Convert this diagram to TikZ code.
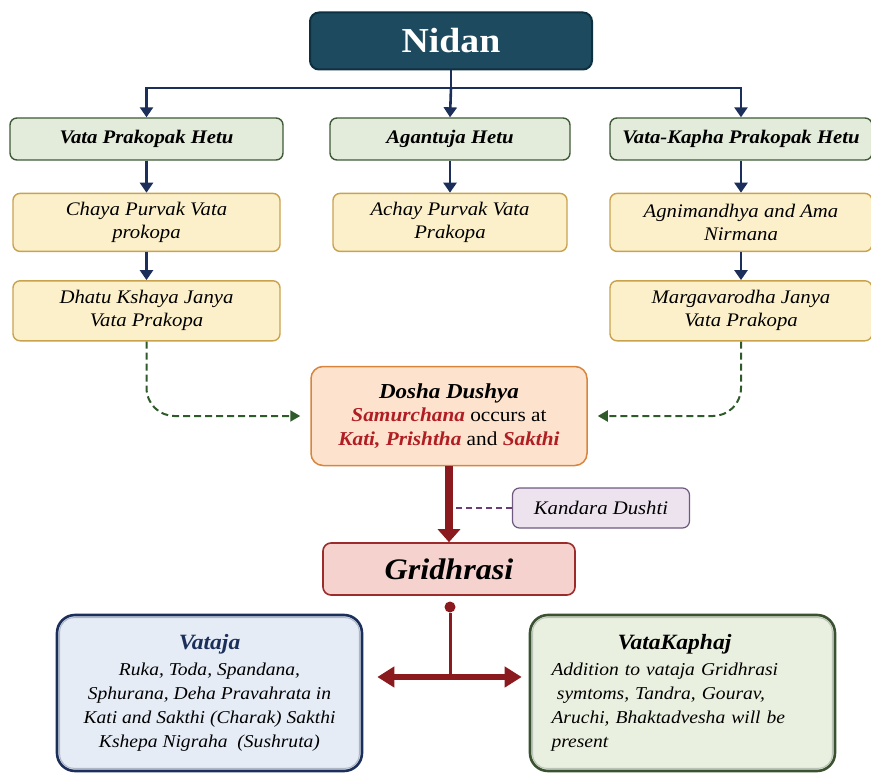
\documentclass[tikz,border=0pt]{standalone}
\usepackage{fontspec}
\setmainfont{Liberation Serif}[FakeStretch=1.08]
\usepackage{tikz}
\usetikzlibrary{shapes.geometric, arrows.meta, positioning, calc}
\definecolor{navy}{HTML}{1B2F5A}
\definecolor{nidanfill}{HTML}{1D4A5E}
\definecolor{nidandraw}{HTML}{0E3142}
\definecolor{hetufill}{HTML}{E3ECDA}
\definecolor{hetudraw}{HTML}{3F5A37}
\definecolor{yelfill}{HTML}{FCF0CA}
\definecolor{yeldraw}{HTML}{C9A24E}
\definecolor{dosfill}{HTML}{FDE3CD}
\definecolor{dosdraw}{HTML}{D9843C}
\definecolor{kdfill}{HTML}{ECE3EF}
\definecolor{kddraw}{HTML}{6E5A7E}
\definecolor{grfill}{HTML}{F6D2CE}
\definecolor{grdraw}{HTML}{9C2B2B}
\definecolor{vtfill}{HTML}{E5ECF6}
\definecolor{vkfill}{HTML}{EAF0DF}
\definecolor{vkdraw}{HTML}{3A5230}
\definecolor{darkred}{HTML}{8A1A1E}
\definecolor{dashgreen}{HTML}{2F5A2A}
\definecolor{kdline}{HTML}{6A3C78}
\definecolor{hl}{HTML}{B01E23}
\tikzstyle{nidan} = [rectangle, rounded corners=9pt, minimum width=282pt, minimum height=57pt, text centered, draw=nidandraw, line width=2pt, fill=nidanfill, text=white, font=\fontsize{35}{38}\selectfont\bfseries]
\tikzstyle{hetu} = [rectangle, rounded corners=7pt, minimum width=273pt, minimum height=42pt, inner xsep=2pt, text centered, draw=hetudraw, line width=1.4pt, fill=hetufill, font=\fontsize{19.2}{22}\selectfont\bfseries\itshape]
\tikzstyle{prakopa} = [rectangle, rounded corners=7pt, minimum width=267pt, minimum height=58pt, align=center, draw=yeldraw, line width=1.4pt, fill=yelfill, font=\fontsize{19.2}{23}\selectfont\itshape]
\tikzstyle{dosha} = [rectangle, rounded corners=12pt, minimum width=276pt, minimum height=99pt, align=center, draw=dosdraw, line width=1.5pt, fill=dosfill, font=\fontsize{19.7}{23.5}\selectfont]
\tikzstyle{kandara} = [rectangle, rounded corners=7pt, minimum width=177pt, minimum height=40pt, text centered, draw=kddraw, line width=1.2pt, fill=kdfill, font=\fontsize{19.2}{22}\selectfont\itshape]
\tikzstyle{gridh} = [rectangle, rounded corners=8pt, minimum width=252pt, minimum height=52pt, text centered, draw=grdraw, line width=1.6pt, fill=grfill, font=\fontsize{29.8}{32}\selectfont\bfseries\itshape]
\tikzstyle{lakshana} = [rectangle, rounded corners=18pt, minimum width=305pt, minimum height=156pt, align=center, line width=2.6pt, font=\fontsize{18.1}{24}\selectfont\itshape]
\tikzstyle{arrow} = [line width=2.6pt, draw=navy, -{Triangle[length=10pt, width=13pt]}]
\tikzstyle{navyline} = [line width=2.6pt, draw=navy]
\tikzstyle{dasharrow} = [line width=2pt, draw=dashgreen, dash pattern=on 7pt off 4pt, rounded corners=28pt, shorten >=10pt, -{Triangle[length=10pt, width=11pt]}, dashgreen]
\tikzstyle{redarrow} = [line width=8pt, draw=darkred, -{Triangle[length=13pt, width=22pt]}]
\tikzstyle{redline} = [line width=3pt, draw=darkred]
\tikzstyle{redtwoway} = [line width=6pt, draw=darkred, {Triangle[length=17pt, width=20pt]}-{Triangle[length=17pt, width=20pt]}]
\tikzstyle{kdash} = [line width=2pt, draw=kdline, dash pattern=on 6pt off 4pt]

\begin{document}
\begin{tikzpicture}[x=1pt, y=-1pt, node distance=30pt]
\useasboundingbox (0,0) rectangle (871,773);

% Top
\node (nd) [nidan] at (451,41) {Nidan};

% Hetu row
\node (vph) [hetu] at (146.5,139) {Vata Prakopak Hetu};
\node (ag) [hetu, minimum width=240pt] at (450,139) {Agantuja Hetu};
\node (vkph) [hetu, minimum width=262pt] at (741,139) {Vata-Kapha Prakopak Hetu};

% Prakopa chain
\node (cp) [prakopa, below=32pt of vph] {Chaya Purvak Vata\\prokopa};
\node (ap) [prakopa, below=32pt of ag, minimum width=234pt] {Achay Purvak Vata\\Prakopa};
\node (am) [prakopa, below=32pt of vkph, minimum width=262pt] {Agnimandhya and Ama\\Nirmana};
\node (dk) [prakopa, below=28pt of cp, minimum height=60pt] {Dhatu Kshaya Janya\\Vata Prakopa};
\node (mv) [prakopa, below=28pt of am, minimum width=262pt, minimum height=60pt] {Margavarodha Janya\\Vata Prakopa};

% Samprapti
\node (dd) [dosha] at (449,416) {{\fontsize{21.3}{23.5}\selectfont\bfseries\itshape Dosha Dushya}\\
  {\color{hl}\bfseries\itshape Samurchana} occurs at\\
  {\color{hl}\bfseries\itshape Kati, Prishtha} and {\color{hl}\bfseries\itshape Sakthi}};
\node (kd) [kandara] at (601,508) {Kandara Dushti};
\node (gr) [gridh] at (449,569) {Gridhrasi};

% Types
\node (vt) [lakshana, draw=navy, fill=vtfill] at (209.5,693) {{\fontsize{21.8}{26}\selectfont\bfseries\color{navy}Vataja}\\[2pt]
  Ruka, Toda, Spandana,\\Sphurana, Deha Pravahrata in\\Kati and Sakthi (Charak) Sakthi\\Kshepa Nigraha~ (Sushruta)};
\node (vk) [lakshana, draw=vkdraw, fill=vkfill, text width=262pt, align=left] at (682.5,693) {\hspace*{66pt}{\fontsize{21.8}{26}\selectfont\bfseries VataKaphaj}\\[2pt]
  Addition to vataja Gridhrasi\\\hspace*{0.3em}symtoms, Tandra, Gourav,\\Aruchi, Bhaktadvesha will be\\present};
\draw [navy!35, line width=1pt, rounded corners=14pt] ([shift={(4pt,-4pt)}]vt.north west) rectangle ([shift={(-4pt,4pt)}]vt.south east);
\draw [vkdraw!35, line width=1pt, rounded corners=14pt] ([shift={(4pt,-4pt)}]vk.north west) rectangle ([shift={(-4pt,4pt)}]vk.south east);

% Arrows
\coordinate (bus) at (451,88);
\draw [navyline] (nd.south) -- (bus);
\draw [arrow] (bus) -- (ag.north);
\draw [arrow] (bus) -| (vph.north);
\draw [arrow] (bus) -| (vkph.north);
\draw [arrow] (vph) -- (cp);
\draw [arrow] (cp) -- (dk);
\draw [arrow] (ag) -- (ap);
\draw [arrow] (vkph) -- (am);
\draw [arrow] (am) -- (mv);
\draw [dasharrow] (dk.south) |- (dd.west);
\draw [dasharrow] (mv.south) |- (dd.east);
\draw [kdash] (kd.west) -- (kd.west -| dd.south);
\draw [redarrow] (dd.south) -- (gr.north);
\node (dot) [circle, fill=darkred, inner sep=0pt, minimum size=11pt] at (450,607) {};
\coordinate (fork) at (450,677);
\draw [redline] (dot) -- (fork);
\draw [redtwoway, shorten <=14pt, shorten >=7pt] (vt.east |- fork) -- (vk.west |- fork);

\end{tikzpicture}
\end{document}
